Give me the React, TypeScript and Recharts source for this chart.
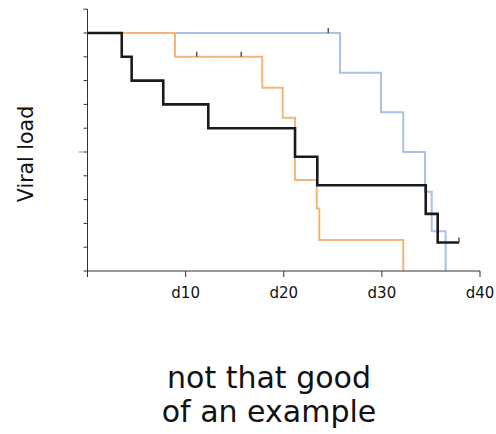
import { ComposedChart, Line, Scatter, XAxis, YAxis } from "recharts"

// Kaplan-Meier style step curves (time in days, fraction remaining)
const blueTimes = [0, 25.73, 29.91, 32.18, 34.39, 35.08, 36.5]
const blueValues = [1, 0.833, 0.667, 0.5, 0.333, 0.167, 0]
const orangeTimes = [0, 8.92, 17.81, 19.89, 21.15, 23.36, 23.62, 32.18]
const orangeValues = [1, 0.9, 0.77, 0.644, 0.382, 0.263, 0.13, 0]
const blackTimes = [0, 3.49, 4.5, 7.72, 12.31, 21.15, 23.42, 34.47, 35.69, 37.86]
const blackValues = [1, 0.9, 0.8, 0.7, 0.6, 0.48, 0.36, 0.24, 0.12, 0.12]

// censored observations
const censorTimes = [11.13, 15.67, 24.54, 37.86]
const censorValues = [0.9, 0.9, 1, 0.12]

const xTicks = [0, 10, 20, 30, 40]
const yTicks = [0, 0.05, 0.1, 0.15, 0.2, 0.25, 0.3, 0.35, 0.4, 0.45, 0.5, 0.55, 0.6, 0.65, 0.7, 0.75, 0.8, 0.85, 0.9, 0.95, 1, 1.05, 1.1]

const toRows = (times: number[], values: number[]) => times.map((t, i) => ({ t, s: values[i] }))

const blueData = toRows(blueTimes, blueValues)
const orangeData = toRows(orangeTimes, orangeValues)
const blackData = toRows(blackTimes, blackValues)
const censorData = toRows(censorTimes, censorValues)

const font = "'DejaVu Sans', sans-serif"

const YTick = (props: any) => {
  const { x, y, payload } = props
  if (payload.value !== 0.5) return null
  // the mid tick is a bit longer and lighter
  return <line x1={x - 3} y1={y} x2={x + 2} y2={y} stroke="#999" strokeWidth={1} />
}

const CensorMark = (props: any) => {
  const { cx, cy } = props
  return <line x1={cx} y1={cy - 5} x2={cx} y2={cy} stroke="#555" strokeWidth={1.5} />
}

export default function App() {
  return (
    <div style={{ position: "absolute", left: 0, top: 0, width: 496, height: 434, background: "#fff" }}>
      <ComposedChart
        width={496}
        height={434}
        margin={{ top: 9.2, right: 16, bottom: 133, left: 77.5 }}
      >
        <XAxis
          type="number"
          dataKey="t"
          domain={[0, 40]}
          ticks={xTicks}
          tickFormatter={(v: number) => (v === 0 ? "" : "d" + v)}
          height={30}
          tickSize={6}
          tickMargin={10}
          stroke="#333"
          tick={{ fill: "#111", fontSize: 15, fontFamily: font }}
        />
        <YAxis
          type="number"
          domain={[0, 1.1]}
          ticks={yTicks}
          width={10}
          tickSize={4}
          stroke="#333"
          tick={<YTick />}
          allowDataOverflow
        />
        <Line data={blueData} dataKey="s" type="stepAfter" stroke="#aac0e4" strokeWidth={2} dot={false} isAnimationActive={false} />
        <Line data={orangeData} dataKey="s" type="stepAfter" stroke="#f3b678" strokeWidth={2} dot={false} isAnimationActive={false} />
        <Line data={blackData} dataKey="s" type="stepAfter" stroke="#1a1a1a" strokeWidth={2.6} dot={false} isAnimationActive={false} />
        <Scatter data={censorData} dataKey="s" shape={<CensorMark />} isAnimationActive={false} />
      </ComposedChart>
      <svg width={60} height={434} style={{ position: "absolute", left: 0, top: 0 }}>
        <text
          transform="translate(33,154) rotate(-90)"
          textAnchor="middle"
          fontFamily={font}
          fontSize={20.5}
          fill="#111"
        >
          Viral load
        </text>
      </svg>
      <div
        style={{
          position: "absolute",
          left: 0,
          width: 538,
          top: 361,
          textAlign: "center",
          fontFamily: font,
          fontSize: 30,
          lineHeight: "34px",
          color: "#111",
        }}
      >
        not that good
        <br />
        of an example
      </div>
    </div>
  )
}
